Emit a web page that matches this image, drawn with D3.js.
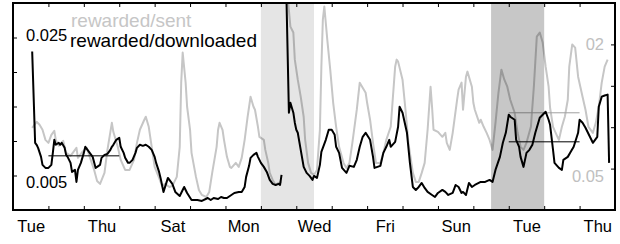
<html>
<title>rewarded ratios</title>
<script src='https://d3js.org/d3.v7.min.js'></script>
<style>
	body {margin: 0; background: white;}
	text {font-family: "Liberation Sans", Arial, Helvetica, sans-serif;}
</style>
<body>
<svg id="chart" width=620 height=244></svg>
<script>
// hours since Tue 00:00 of the first day
var dayNames = ["Tue", "Thu", "Sat", "Mon", "Wed", "Fri", "Sun", "Tue", "Thu"];
var nDays = 17;

// rewarded/downloaded (left axis), null = gap
var blackHours = [13,15,16,17,19,20,22,24,26,27,28,29,31,32,33,35,36,37,39,40,42,43,44,46,48,49,52,54,56,57,59,60,62,64,66,67,68,70,72,73,75,76,78,79,81,83,84,86,88,90,92,94,96,97,99,100,102,105,108,110,113,116,118,121,125,128,132,134,136,139,141,143,145,148,150,153,155,157,158,160,161,163,165,166,168,170,172,174,176,178,180,181,182,183,185,187,188,190,191,192,193,195,197,199,201,203,204,206,208,209,212,214,216,218,219,221,223,226,228,231,233,235,237,239,242,244,245,249,251,253,255,256,259,261,262,264,267,269,271,273,275,277,279,281,284,286,288,291,293,295,298,300,302,304,305,307,309,311,313,317,320,323,325,327,330,332,334,336,337,340,341,343,344,346,348,350,352,354,357,359,361,363,364,366,367,370,372,373,376,378,380,383,384,386,388,391,393,396,397,399,401,403,404];
var blackVals = [0.02297,0.00974,0.00945,0.00901,0.00770,0.00654,0.00610,0.00610,0.00654,0.00828,0.01017,0.00945,0.00974,0.00945,0.00974,0.00901,0.00799,0.00770,0.00683,0.00552,0.00581,0.00407,0.00581,0.00683,0.00828,0.00916,0.00828,0.00770,0.00610,0.00625,0.00654,0.00756,0.00799,0.00814,0.00872,0.00916,0.00945,0.01017,0.01047,0.00916,0.00828,0.00756,0.00683,0.00683,0.00727,0.00828,0.00901,0.00945,0.00930,0.00945,0.00916,0.00872,0.00770,0.00683,0.00552,0.00465,0.00262,0.00465,0.00378,0.00262,0.00203,0.00334,0.00247,0.00145,0.00145,0.00131,0.00174,0.00145,0.00174,0.00160,0.00189,0.00174,0.00174,0.00218,0.00247,0.00262,0.00262,0.00334,0.00480,0.00640,0.00756,0.00799,0.00828,0.00770,0.00683,0.00625,0.00552,0.00436,0.00378,0.00363,0.00378,0.00363,0.00509,null,0.0340,0.01410,0.01555,0.01410,0.01265,0.01163,0.01119,0.00872,0.00625,0.00538,0.00494,0.00436,0.00494,0.00465,0.00654,0.00843,0.01017,0.01163,0.01163,0.01090,0.00916,0.00828,0.00610,0.00538,0.00640,0.00625,0.00727,0.00916,0.01061,0.01119,0.01017,0.00770,0.00610,0.00640,0.00828,0.00916,0.01017,0.00916,0.00988,0.01206,0.01497,0.01410,0.01119,0.00683,0.00334,0.00291,0.00334,0.00392,0.00320,0.00262,0.00218,0.00189,0.00247,0.00291,0.00262,0.00218,0.00247,0.00363,0.00334,0.00247,0.00262,0.00218,0.00392,0.00334,0.00363,0.00407,0.00407,0.00436,0.00407,0.00581,0.00770,0.00974,0.01119,0.01381,0.01352,0.01308,0.01017,0.00916,0.00770,0.00625,0.00828,0.00872,0.00945,0.01119,0.01337,0.01381,0.01424,0.01308,0.01235,0.00872,0.00683,0.00610,0.00581,0.00727,0.00770,0.00843,0.00916,0.01119,0.01308,0.01265,0.01192,0.01061,0.00974,0.01061,0.01497,0.01642,0.01660,0.01672,0.00683];

// rewarded/sent (right axis), null = gap
var greyHours = [13,16,18,20,22,24,26,28,29,31,33,34,36,39,41,43,44,47,50,52,55,57,59,62,64,66,67,68,71,73,76,79,82,84,86,89,90,92,94,96,99,101,103,106,108,111,113,114,115,117,118,120,121,124,126,128,131,133,135,138,139,140,142,143,145,147,148,151,153,155,157,159,161,163,164,166,167,170,171,173,174,176,178,180,182,183,185,188,190,191,193,195,197,198,200,202,204,206,208,209,210,211,213,215,217,219,221,224,226,228,230,233,235,237,239,240,242,244,246,249,251,253,256,257,259,260,261,264,266,268,271,273,275,277,279,281,283,284,285,288,291,293,294,296,298,301,302,304,305,307,308,311,312,313,316,317,319,321,323,325,327,329,331,333,335,337,340,342,344,346,348,351,353,355,357,359,361,363,364,366,369,370,372,374,376,377,379,381,383,386,388,390,393,395,397,399,401,403];
var greyVals = [0.0993,0.1065,0.1029,0.0969,0.0847,0.0811,0.0908,0.0956,0.0847,0.0775,0.0811,0.0835,0.0690,0.0654,0.0702,0.0751,0.0630,0.0702,0.0751,0.0642,0.0484,0.0351,0.0315,0.0448,0.0726,0.0944,0.1053,0.0944,0.0763,0.0605,0.0484,0.0484,0.0605,0.0811,0.0969,0.1090,0.1126,0.1005,0.0763,0.0521,0.0387,0.0291,0.0315,0.0278,0.0291,0.0400,0.0763,0.1538,0.1901,0.1538,0.1247,0.0969,0.0690,0.0400,0.0242,0.0182,0.0157,0.0218,0.0448,0.0763,0.0969,0.1053,0.0969,0.0847,0.0642,0.0521,0.0508,0.0569,0.0521,0.0630,0.0847,0.1126,0.1368,0.1247,0.1211,0.1005,0.0884,0.0847,0.0726,0.0569,0.0448,0.0363,0.0303,0.0327,0.0339,null,0.280,0.2215,0.2143,0.1816,0.1574,0.1368,0.1126,0.0847,0.0569,0.0448,0.0424,0.0484,0.0969,0.1731,0.2300,0.2458,0.2058,0.1695,0.1295,0.1005,0.0763,0.0569,0.0508,0.0569,0.0811,0.1211,0.1538,0.1477,0.1416,0.1295,0.1090,0.0811,0.0569,0.0569,0.0690,0.0847,0.1005,0.1247,0.1731,0.1816,0.1792,0.1574,0.1211,0.0811,0.0448,0.0339,0.0339,0.0448,0.0569,0.0969,0.1489,0.1247,0.0969,0.0944,0.0884,0.0932,0.0811,0.0726,0.0932,0.1332,0.1453,0.1538,0.1211,0.1610,0.1671,0.1489,0.1295,0.1211,0.1053,0.1090,0.1005,0.0932,0.0847,0.0726,0.1053,0.1416,0.1695,0.1574,0.1489,0.1332,0.1174,0.0932,0.0763,0.0726,0.0811,0.1005,0.1489,0.2094,0.2143,0.2022,0.1731,0.1489,0.1235,0.1005,0.0884,0.0847,0.1005,0.1126,0.1332,0.1731,0.1998,0.1961,0.1610,0.1368,0.1211,0.1005,0.0932,0.1053,0.1247,0.1538,0.1731,0.1816];

// shaded spans [start hour, end hour]
var lightSpan = [168, 204];
var darkSpan = [324, 360];

// mean markers: [start hour, end hour, value]
var blackMeans = [[24, 72, 0.00785], [336, 384, 0.00988]];
var greyMeans = [[336, 384, 0.1174]];

var leftTicks = [0.005, 0.01, 0.015, 0.02, 0.025];
var rightTicks = [0.05, 0.1, 0.15, 0.2];

var svg = d3.select("#chart");
var x0 = 13, x1 = 615, y0 = 3, y1 = 210;

var x = d3.scaleLinear().domain([0, nDays * 24]).range([x0, x1]);
var yL = d3.scaleLinear().domain([0, 0.030]).range([y1, y0]);
var yR = d3.scaleLinear().domain([0, 0.25]).range([y1, y0]);

svg.append("defs").append("clipPath").attr("id", "plot")
	.append("rect").attr("x", x0).attr("y", y0)
	.attr("width", x1 - x0).attr("height", y1 - y0);

var plot = svg.append("g").attr("clip-path", "url(#plot)");

var greyData = greyHours.map(function(h, i) { return [h, greyVals[i]]; });
var blackData = blackHours.map(function(h, i) { return [h, blackVals[i]]; });

plot.append("path")
	.datum(greyData)
	.attr("fill", "none").attr("stroke", "#c6c6c6").attr("stroke-width", 2)
	.attr("stroke-linejoin", "round")
	.attr("d", d3.line().defined(function(d) { return d[1] != null; })
		.x(function(d) { return x(d[0]); }).y(function(d) { return yR(d[1]); }));

plot.selectAll(".gmean").data(greyMeans).enter().append("line")
	.attr("x1", function(d) { return x(d[0]); }).attr("x2", function(d) { return x(d[1]); })
	.attr("y1", function(d) { return yR(d[2]); }).attr("y2", function(d) { return yR(d[2]); })
	.attr("stroke", "#a0a0a0").attr("stroke-width", 1);

plot.selectAll(".bmean").data(blackMeans).enter().append("line")
	.attr("x1", function(d) { return x(d[0]); }).attr("x2", function(d) { return x(d[1]); })
	.attr("y1", function(d) { return yL(d[2]); }).attr("y2", function(d) { return yL(d[2]); })
	.attr("stroke", "#000").attr("stroke-width", 1);

plot.append("path")
	.datum(blackData)
	.attr("fill", "none").attr("stroke", "#000").attr("stroke-width", 2)
	.attr("stroke-linejoin", "round")
	.attr("d", d3.line().defined(function(d) { return d[1] != null; })
		.x(function(d) { return x(d[0]); }).y(function(d) { return yL(d[1]); }));

// shading over the lines
plot.append("rect")
	.attr("x", x(lightSpan[0])).attr("width", x(lightSpan[1]) - x(lightSpan[0]))
	.attr("y", y0).attr("height", y1 - y0)
	.attr("fill", "#000").attr("fill-opacity", 0.1);
plot.append("rect")
	.attr("x", x(darkSpan[0])).attr("width", x(darkSpan[1]) - x(darkSpan[0]))
	.attr("y", y0).attr("height", y1 - y0)
	.attr("fill", "#000").attr("fill-opacity", 0.22);

// axes: ticks point inward
var dayStarts = d3.range(1, nDays).map(function(d) { return d * 24; });
var labelHours = dayNames.map(function(n, i) { return 12 + i * 48; });

var gb = svg.append("g").attr("transform", "translate(0," + y1 + ")")
	.call(d3.axisBottom(x).tickValues(dayStarts).tickSize(-4).tickFormat(""));
var gt = svg.append("g").attr("transform", "translate(0," + y0 + ")")
	.call(d3.axisTop(x).tickValues(dayStarts).tickSize(-4).tickFormat(""));
var gl = svg.append("g").attr("transform", "translate(" + x0 + ",0)")
	.call(d3.axisRight(yL).tickValues(leftTicks).tickSize(4).tickFormat(""));
var gr = svg.append("g").attr("transform", "translate(" + x1 + ",0)")
	.call(d3.axisLeft(yR).tickValues(rightTicks).tickSize(4).tickFormat(""));
[gb, gt, gl, gr].forEach(function(g) { g.select(".domain").remove(); });

var gx = svg.append("g").attr("transform", "translate(0," + y1 + ")")
	.call(d3.axisBottom(x).tickValues(labelHours).tickSize(0).tickPadding(10)
		.tickFormat(function(d, i) { return dayNames[i]; }));
gx.select(".domain").remove();
gx.selectAll("text").attr("font-size", 16.5).attr("fill", "#000")
	.style("font-family", '"Liberation Sans", Arial, sans-serif');

// frame
svg.append("rect")
	.attr("x", x0).attr("y", y0)
	.attr("width", x1 - x0).attr("height", y1 - y0)
	.attr("fill", "none").attr("stroke", "#000").attr("stroke-width", 2);

// y labels inside the frame
svg.append("text").attr("x", x0 + 13).attr("y", yL(0.025) + 3)
	.attr("font-size", 16.5).text("0.025");
svg.append("text").attr("x", x0 + 13).attr("y", yL(0.005) + 12)
	.attr("font-size", 16.5).text("0.005");
svg.append("text").attr("x", x1 - 11).attr("y", yR(0.2) + 6)
	.attr("font-size", 16.5).attr("fill", "#c0c0c0").attr("text-anchor", "end").text("02");
svg.append("text").attr("x", x1 - 11).attr("y", yR(0.05) + 13)
	.attr("font-size", 16.5).attr("fill", "#c0c0c0").attr("text-anchor", "end").text("0.05");

// legend
svg.append("text").attr("x", 71).attr("y", 27)
	.attr("font-size", 19).attr("fill", "#c6c6c6").text("rewarded/sent");
svg.append("text").attr("x", 70).attr("y", 47)
	.attr("font-size", 19).attr("fill", "#000").text("rewarded/downloaded");
</script>
</body>
</html>
